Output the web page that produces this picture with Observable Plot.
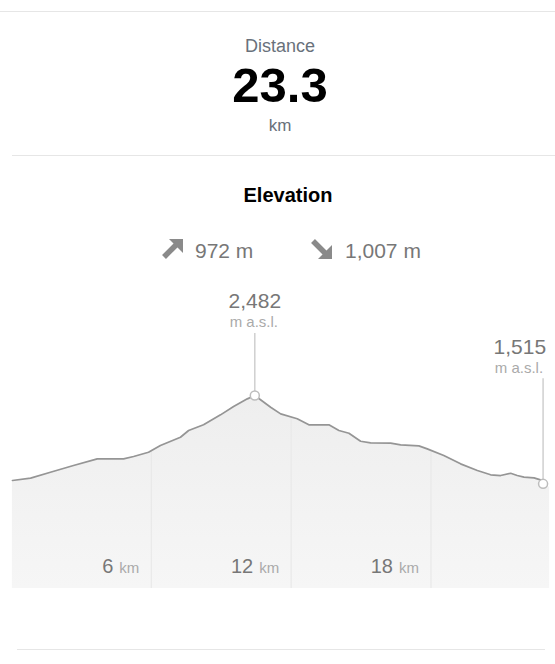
<!DOCTYPE html>
<html>
<head>
<meta charset="utf-8">
<script src="https://cdn.jsdelivr.net/npm/d3@7"></script>
<script src="https://cdn.jsdelivr.net/npm/@observablehq/plot@0.6"></script>
<style>
  html, body { margin: 0; padding: 0; background: #fff; }
  body { width: 555px; height: 664px; position: relative; overflow: hidden;
         font-family: "Liberation Sans", Arial, sans-serif; }
  .abs { position: absolute; line-height: 1; white-space: nowrap; }
  .hr { position: absolute; height: 1px; background: #e6e6e6; }
  #chart { position: absolute; left: 0; top: 280px; }
</style>
</head>
<body>
<div class="hr" style="left:0;width:555px;top:11px"></div>
<div class="abs" id="distLabel" style="left:0;width:560px;text-align:center;top:37px;font-size:18px;color:#69717b"></div>
<div class="abs" id="distValue" style="left:0;width:560px;text-align:center;top:61px;font-size:49px;font-weight:bold;color:#000"></div>
<div class="abs" id="distUnit" style="left:0;width:560px;text-align:center;top:117px;font-size:17px;color:#69717b"></div>
<div class="hr" style="left:12px;width:543px;top:155px"></div>
<div class="abs" id="elevTitle" style="left:0;width:576px;text-align:center;top:185px;font-size:20px;font-weight:bold;color:#000"></div>
<svg class="abs" style="left:162px;top:239px" width="21" height="20" viewBox="0 0 21 20">
  <polygon points="7,0 21,0 21,14" fill="#8a8a8a"/>
  <line x1="2" y1="18" x2="15" y2="5" stroke="#8a8a8a" stroke-width="5.5"/>
</svg>
<div class="abs" id="ascent" style="left:195px;top:240px;font-size:21px;color:#777"></div>
<svg class="abs" style="left:311px;top:239px" width="21" height="20" viewBox="0 0 21 20">
  <polygon points="7,20 21,20 21,6" fill="#8a8a8a"/>
  <line x1="2" y1="2" x2="15" y2="15" stroke="#8a8a8a" stroke-width="5.5"/>
</svg>
<div class="abs" id="descent" style="left:345px;top:240px;font-size:21px;color:#777"></div>
<div id="chart"></div>
<div class="hr" style="left:17px;width:528px;top:649px"></div>
<script>
// ---- header texts ----
const headerLabel = "Distance";
const headerValue = "23.3";
const headerUnit = "km";
const sectionTitle = "Elevation";
const ascentText = "972 m";
const descentText = "1,007 m";

// ---- elevation profile (km, m) ----
const distanceKm = [0.04, 0.82, 1.67, 2.66, 3.68, 4.81, 5.24, 5.88, 6.39, 7.25, 7.60, 8.24, 8.97, 9.53, 10.12, 10.44,
  11.12, 11.55, 12.26, 12.76, 13.62, 14.05, 14.48, 14.98, 15.41, 16.27, 16.70, 17.48, 17.84, 18.55, 19.27, 19.99,
  20.56, 20.99, 21.42, 21.70, 21.99, 22.42, 22.70, 22.81, 23.09];
const elevationM = [1552, 1577, 1642, 1716, 1789, 1789, 1814, 1861, 1934, 2025, 2099, 2161, 2270, 2361, 2445, 2482,
  2353, 2281, 2227, 2161, 2161, 2099, 2069, 1981, 1964, 1960, 1942, 1931, 1898, 1825, 1734, 1661,
  1614, 1606, 1631, 1606, 1588, 1581, 1559, 1515, 1478];

// ---- axis ticks ----
const tickKm = [6, 12, 18];
const tickNumbers = ["6", "12", "18"];
const tickUnit = "km";

// ---- highlighted points ----
const markerKm = [10.44, 22.81];
const markerElev = [2482, 1515];
const markerValueText = ["2,482", "1,515"];
const markerUnitText = "m a.s.l.";

document.getElementById("distLabel").textContent = headerLabel;
document.getElementById("distValue").textContent = headerValue;
document.getElementById("distUnit").textContent = headerUnit;
document.getElementById("elevTitle").textContent = sectionTitle;
document.getElementById("ascent").textContent = ascentText;
document.getElementById("descent").textContent = descentText;

const profile = distanceKm.map((km, i) => ({km, elev: elevationM[i]}));
const ticks = tickKm.map((km, i) => ({km, num: tickNumbers[i]}));
const markers = markerKm.map((km, i) => ({km, elev: markerElev[i], label: markerValueText[i]}));

const W = 555, H = 310, mL = 11, mR = 1, mT = 0, mB = 2;
const yDomain = [370, 3740];
const yMin = yDomain[0], yMax = yDomain[1];
const ys = d3.scaleLinear().domain(yDomain).range([H - mB, mT]);
// rule tops (pixels above each marker) so rules reach the label
const liftPx = [62, 105];
const peak = [markers[0]], end = [markers[1]];
const withTop = (arr, lift) => arr.map(d => ({...d, top: ys.invert(ys(d.elev) - lift)}));

const gradientDefs = () => {
  const defs = d3.create("svg:defs");
  const g = defs.append("linearGradient").attr("id", "elevGrad")
    .attr("x1", 0).attr("y1", 0).attr("x2", 0).attr("y2", 1);
  g.append("stop").attr("offset", "0%").attr("stop-color", "#eeeeee");
  g.append("stop").attr("offset", "100%").attr("stop-color", "#f6f6f6");
  return defs.node();
};

const plot = Plot.plot({
  width: W, height: H,
  marginLeft: mL, marginRight: mR, marginTop: mT, marginBottom: mB,
  x: {domain: [0, 23.3], axis: null},
  y: {domain: yDomain, axis: null},
  style: {fontFamily: '"Liberation Sans", Arial, sans-serif', background: "transparent", overflow: "visible"},
  marks: [
    gradientDefs,
    Plot.areaY(profile, {x: "km", y1: yMin, y2: "elev", fill: "url(#elevGrad)"}),
    Plot.ruleX(tickKm, {x: d => d, y1: yMin, y2: yMax, stroke: "#e9e9e9", strokeWidth: 1.2}),
    Plot.areaY(profile, {x: "km", y1: "elev", y2: yMax, fill: "white"}),
    Plot.line(profile, {x: "km", y: "elev", filter: d => d.km <= markerKm[1], stroke: "#959595", strokeWidth: 1.7}),
    Plot.text(ticks, {x: "km", text: "num", frameAnchor: "bottom", lineAnchor: "bottom", textAnchor: "end",
      dx: -38, dy: -16, fontSize: 20, fill: "#777"}),
    Plot.text(ticks, {x: "km", text: () => tickUnit, frameAnchor: "bottom", lineAnchor: "bottom", textAnchor: "end",
      dx: -12, dy: -16, fontSize: 15, fill: "#aaa"}),
    Plot.ruleX(withTop(peak, liftPx[0]), {x: "km", y1: "elev", y2: "top", stroke: "#cfcfcf", strokeWidth: 1.5}),
    Plot.ruleX(withTop(end, liftPx[1]), {x: "km", y1: "elev", y2: "top", stroke: "#cfcfcf", strokeWidth: 1.5}),
    Plot.dot(markers, {x: "km", y: "elev", r: 4.5, fill: "white", stroke: "#bdbdbd", strokeWidth: 1.5}),
    Plot.text(peak, {x: "km", y: "elev", text: "label", lineAnchor: "bottom", dy: -87, fontSize: 21, fill: "#777"}),
    Plot.text(peak, {x: "km", y: "elev", text: () => markerUnitText, lineAnchor: "bottom", dy: -68, dx: -1, fontSize: 15, fill: "#aaa"}),
    Plot.text(end, {x: "km", y: "elev", text: "label", lineAnchor: "bottom", textAnchor: "end", dx: 3, dy: -130, fontSize: 21, fill: "#777"}),
    Plot.text(end, {x: "km", y: "elev", text: () => markerUnitText, lineAnchor: "bottom", textAnchor: "end", dx: 0, dy: -111, fontSize: 15, fill: "#aaa"})
  ]
});
document.getElementById("chart").appendChild(plot);
</script>
</body>
</html>
